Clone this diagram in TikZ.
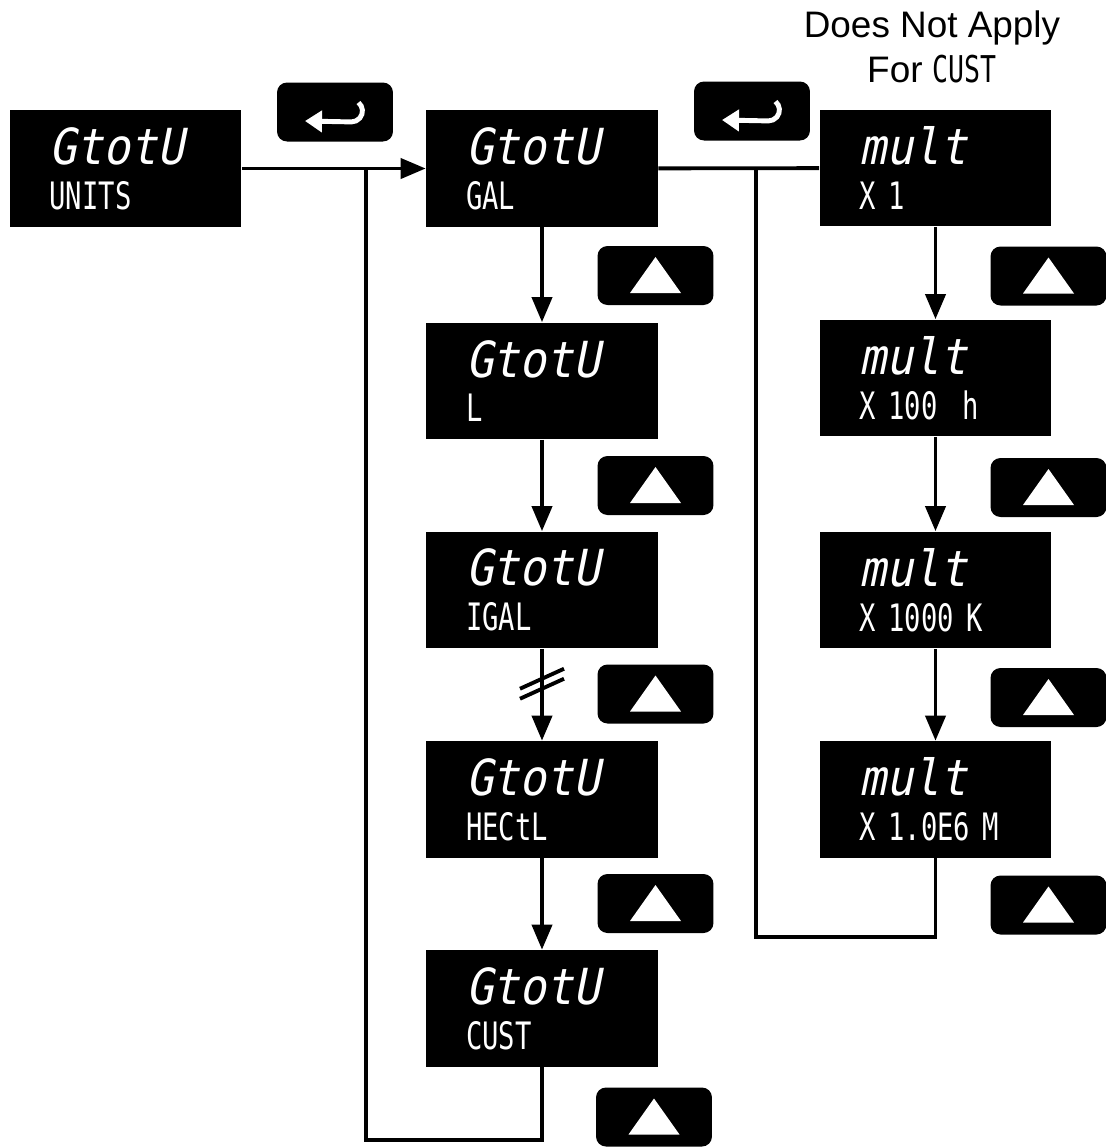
\documentclass[tikz,border=0pt]{standalone}
\usepackage{fontspec}
\setmainfont{Liberation Sans}
\newfontfamily\segfont[FakeStretch=0.72]{DejaVu Sans Mono}
\newfontfamily\segslant[FakeStretch=0.9,FakeSlant=0.2]{DejaVu Sans Mono}
\newcommand{\segtop}{\segslant\fontsize{28.3pt}{25.5pt}\selectfont}
\newcommand{\segbot}{\segfont\fontsize{21.5pt}{25.5pt}\selectfont}
\usetikzlibrary{positioning,arrows.meta,calc}
\tikzstyle{display} = [rectangle, fill=black, text=white, minimum width=4.64cm, minimum height=2.34cm, inner xsep=0.8cm, inner ysep=0pt, text width=3.04cm, align=left, font=\segbot]
\tikzstyle{key} = [rectangle, rounded corners=0.2cm, fill=black, minimum width=2.32cm, minimum height=1.18cm]
\tikzstyle{link} = [line width=2.2pt]
\tikzstyle{arrow} = [link, -{Triangle[length=0.5cm,width=0.4cm]}]
\tikzstyle{glyph} = [white, line width=2.8pt, -{Triangle[length=0.34cm,width=0.42cm]}]
\tikzstyle{note} = [align=center, font=\fontsize{21pt}{25.5pt}\selectfont]

\begin{document}
\begin{tikzpicture}[x=0.02cm, y=-0.02cm]
    \useasboundingbox (0,0) rectangle (1106,1147);

    % displays
    \node[display] (units) at (125.5,168.5) {{\segtop GtotU}\\UNITS};
    \node[display] (gal) at (542,168.5) {{\segtop GtotU}\\GAL};
    \node[display] (lit) at (542,381) {{\segtop GtotU}\\L};
    \node[display] (igal) at (542,590) {{\segtop GtotU}\\IGAL};
    \node[display] (hectl) at (542,799.5) {{\segtop GtotU}\\HECtL};
    \node[display] (cust) at (542,1008.5) {{\segtop GtotU}\\CUST};
    \node[display] (multA) at (935.5,168) {{\segtop mult}\\X~1};
    \node[display] (multB) at (935.5,378) {{\segtop mult}\\X~100\ \ h};
    \node[display] (multC) at (935.5,590) {{\segtop mult}\\X~1000~K};
    \node[display] (multD) at (935.5,799.5) {{\segtop mult}\\X~1.0E6~M};

    \node[note] (note) at (932,47) {Does Not Apply\\For {\segfont CUST}};

    % enter keys
    \node[key] (enterA) at (335,112) {};
    \draw[glyph] ([shift={(0.47cm,0.19cm)}]enterA.center) arc[start angle=50, end angle=-90, radius=0.22cm] -- ([shift={(-0.6cm,-0.18cm)}]enterA.center);
    \node[key] (enterB) at (752,111) {};
    \draw[glyph] ([shift={(0.47cm,0.19cm)}]enterB.center) arc[start angle=50, end angle=-90, radius=0.22cm] -- ([shift={(-0.6cm,-0.18cm)}]enterB.center);

    % up keys
    \node[key] (upA) at (655.5,275.5) {};
    \fill[white] ([shift={(-0.51cm,-0.35cm)}]upA.center) -- ([shift={(0.51cm,-0.35cm)}]upA.center) -- ([shift={(0cm,0.37cm)}]upA.center) -- cycle;
    \node[key] (upB) at (655.5,485.5) {};
    \fill[white] ([shift={(-0.51cm,-0.35cm)}]upB.center) -- ([shift={(0.51cm,-0.35cm)}]upB.center) -- ([shift={(0cm,0.37cm)}]upB.center) -- cycle;
    \node[key] (upC) at (655.5,694) {};
    \fill[white] ([shift={(-0.51cm,-0.35cm)}]upC.center) -- ([shift={(0.51cm,-0.35cm)}]upC.center) -- ([shift={(0cm,0.37cm)}]upC.center) -- cycle;
    \node[key] (upD) at (655.5,903.5) {};
    \fill[white] ([shift={(-0.51cm,-0.35cm)}]upD.center) -- ([shift={(0.51cm,-0.35cm)}]upD.center) -- ([shift={(0cm,0.37cm)}]upD.center) -- cycle;
    \node[key] (upE) at (654,1117) {};
    \fill[white] ([shift={(-0.51cm,-0.35cm)}]upE.center) -- ([shift={(0.51cm,-0.35cm)}]upE.center) -- ([shift={(0cm,0.37cm)}]upE.center) -- cycle;
    \node[key] (upF) at (1048.5,276) {};
    \fill[white] ([shift={(-0.51cm,-0.35cm)}]upF.center) -- ([shift={(0.51cm,-0.35cm)}]upF.center) -- ([shift={(0cm,0.37cm)}]upF.center) -- cycle;
    \node[key] (upG) at (1048.5,487.5) {};
    \fill[white] ([shift={(-0.51cm,-0.35cm)}]upG.center) -- ([shift={(0.51cm,-0.35cm)}]upG.center) -- ([shift={(0cm,0.37cm)}]upG.center) -- cycle;
    \node[key] (upH) at (1048.5,697.5) {};
    \fill[white] ([shift={(-0.51cm,-0.35cm)}]upH.center) -- ([shift={(0.51cm,-0.35cm)}]upH.center) -- ([shift={(0cm,0.37cm)}]upH.center) -- cycle;
    \node[key] (upI) at (1048.5,905) {};
    \fill[white] ([shift={(-0.51cm,-0.35cm)}]upI.center) -- ([shift={(0.51cm,-0.35cm)}]upI.center) -- ([shift={(0cm,0.37cm)}]upI.center) -- cycle;

    % connectors
    \coordinate (joinA) at (366,168.5);
    \coordinate (joinB) at (756,168.5);
    \draw[arrow] (units) -- (gal);
    \draw[link] (gal) -- (multA);
    \draw[arrow] (gal) -- (lit);
    \draw[arrow] (lit) -- (igal);
    \draw[arrow] (igal) -- (hectl);
    \draw[arrow] (hectl) -- (cust);
    \draw[arrow] (multA) -- (multB);
    \draw[arrow] (multB) -- (multC);
    \draw[arrow] (multC) -- (multD);
    \draw[link] (cust.south) -- ++(0,73) -| (joinA);
    \draw[link] (multD.south) -- ++(0,79) -| (joinB);

    % break marks
    \coordinate (brk) at ($(igal.south)!0.38!(hectl.north)$);
    \draw[link] ([shift={(-0.44cm,-0.1cm)}]brk) -- ([shift={(0.44cm,0.3cm)}]brk);
    \draw[link] ([shift={(-0.44cm,-0.3cm)}]brk) -- ([shift={(0.44cm,0.1cm)}]brk);
\end{tikzpicture}
\end{document}
